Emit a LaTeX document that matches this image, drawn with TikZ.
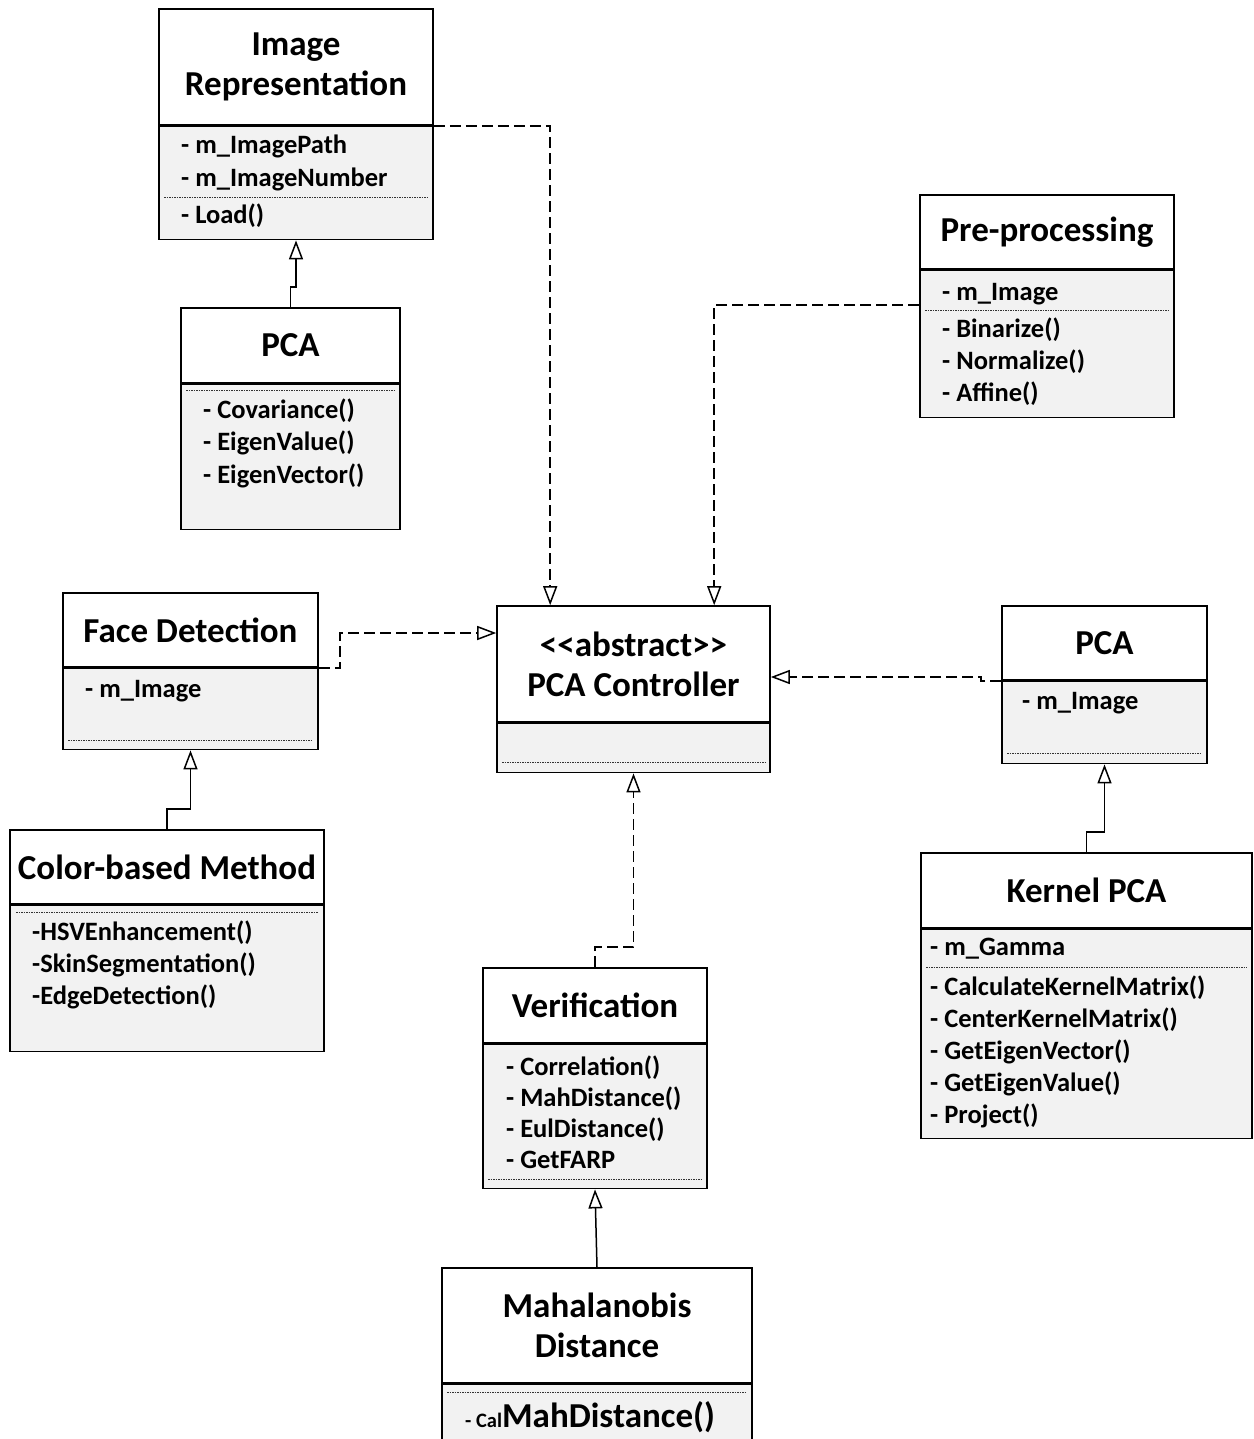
\documentclass[tikz,border=0pt]{standalone}
\usepackage{fontspec}
\setmainfont{Carlito}
\usepackage{tikz}
\usetikzlibrary{arrows.meta}

\begin{document}
\begin{tikzpicture}[x=1pt, y=-1pt,
  clsname/.style={draw, line width=1.6pt, fill=white, align=center, inner sep=0pt,
    font=\fontsize{35}{40}\selectfont\bfseries},
  body/.style={draw, line width=1.6pt, fill=black!5, inner sep=0pt},
  member/.style={anchor=base west, inner sep=0pt, font=\fontsize{26.5}{32}\selectfont\bfseries},
  divider/.style={line width=1pt, black!80, dash pattern=on 1.5pt off 1pt},
  generalize/.style={line width=1.5pt, -{Triangle[open, length=19pt, width=14pt]}},
  realize/.style={generalize, dash pattern=on 11pt off 5pt}]
  \useasboundingbox (0,0) rectangle (1253,1439);
  \clip (0,0) rectangle (1253,1439);

  % Image Representation
  \node[clsname, minimum width=274pt, minimum height=116pt] (imgT) at (296,67) {Image\\Representation};
  \node[body, minimum width=274pt, minimum height=113pt, anchor=north] (imgB) at (imgT.south) {};
  \node[member] (imgA1) at (181,154) {- m\_ImagePath};
  \node[member] (imgA2) at (181,187) {- m\_ImageNumber};
  \draw[divider] (164,198) -- (428,198);
  \node[member] (imgM1) at (181,224) {- Load()};

  % PCA (trai)
  \node[clsname, minimum width=219pt, minimum height=75pt] (pcalT) at (290.5,345.5) {PCA};
  \node[body, minimum width=219pt, minimum height=145pt, anchor=north] (pcalB) at (pcalT.south) {};
  \draw[divider] (186,390) -- (395,390);
  \foreach \t [count=\i from 0] in {- Covariance(), - EigenValue(), - EigenVector()}
    \node[member] (pcalM\i) at (203,418+32.5*\i) {\t};

  % Pre-processing
  \node[clsname, minimum width=254pt, minimum height=74pt] (ppT) at (1047,232) {Pre-processing};
  \node[body, minimum width=254pt, minimum height=147pt, anchor=north] (ppB) at (ppT.south) {};
  \node[member] (ppA1) at (942,300) {- m\_Image};
  \draw[divider] (925,310) -- (1169,310);
  \foreach \t [count=\i from 0] in {- Binarize(), - Normalize(), - Affine()}
    \node[member] (ppM\i) at (942,337+32*\i) {\t};

  % Face Detection
  \node[clsname, minimum width=255pt, minimum height=74pt] (fdT) at (190.5,630) {Face Detection};
  \node[body, minimum width=255pt, minimum height=81pt, anchor=north] (fdB) at (fdT.south) {};
  \node[member] (fdA1) at (85,697) {- m\_Image};
  \draw[divider] (68,740) -- (313,740);

  % PCA Controller
  \node[clsname, minimum width=273pt, minimum height=116pt] (ctlT) at (633.5,664) {<\kern0pt<abstract>\kern0pt>\\PCA Controller};
  \node[body, minimum width=273pt, minimum height=49pt, anchor=north] (ctlB) at (ctlT.south) {};
  \draw[divider] (502,762) -- (765,762);

  % PCA (phai)
  \node[clsname, minimum width=205pt, minimum height=74pt] (pcarT) at (1104.5,643) {PCA};
  \node[body, minimum width=205pt, minimum height=82pt, anchor=north] (pcarB) at (pcarT.south) {};
  \node[member] (pcarA1) at (1022,709) {- m\_Image};
  \draw[divider] (1007,753) -- (1202,753);

  % Color-based Method
  \node[clsname, minimum width=314pt, minimum height=74pt] (colT) at (167,867) {Color-based Method};
  \node[body, minimum width=314pt, minimum height=146pt, anchor=north] (colB) at (colT.south) {};
  \draw[divider] (16,912) -- (318,912);
  \foreach \t [count=\i from 0] in {-HSVEnhancement(), -SkinSegmentation(), -EdgeDetection()}
    \node[member] (colM\i) at (32,940+32*\i) {\t};

  % Kernel PCA
  \node[clsname, minimum width=331pt, minimum height=75pt] (kerT) at (1086.5,890.5) {Kernel PCA};
  \node[body, minimum width=331pt, minimum height=209pt, anchor=north] (kerB) at (kerT.south) {};
  \node[member] (kerA1) at (930,955) {- m\_Gamma};
  \draw[divider] (926,967) -- (1247,967);
  \foreach \t [count=\i from 0] in {- CalculateKernelMatrix(), - CenterKernelMatrix(), - GetEigenVector(), - GetEigenValue(), - Project()}
    \node[member] (kerM\i) at (930,995+32*\i) {\t};

  % Verification
  \node[clsname, minimum width=224pt, minimum height=75pt] (verT) at (595,1005.5) {Verification};
  \node[body, minimum width=224pt, minimum height=144pt, anchor=north] (verB) at (verT.south) {};
  \foreach \t [count=\i from 0] in {- Correlation(), - MahDistance(), - EulDistance(), - GetFARP}
    \node[member] (verM\i) at (506,1075+31*\i) {\t};
  \draw[divider] (488,1179) -- (702,1179);

  % Mahalanobis Distance
  \node[clsname, minimum width=310pt, minimum height=115pt] (mahT) at (597,1325.5) {Mahalanobis\\Distance};
  \node[body, minimum width=310pt, minimum height=80pt, anchor=north] (mahB) at (mahT.south) {};
  \draw[divider] (447,1392) -- (747,1392);
  \node[member] (mahM1) at (465,1427) {{\fontsize{20.5}{24}\selectfont - Cal}{\fontsize{35}{38}\selectfont MahDistance()}};

  % Ke thua
  \draw[generalize] (pcalT.north) -- ++(0,-20) -| (imgB.south);
  \draw[generalize] (colT.north) -- ++(0,-20) -| (fdB.south);
  \draw[generalize] (kerT.north) -- ++(0,-20) -| (pcarB.south);
  \draw[generalize] (mahT.north) -- (verB.south);

  % Phu thuoc vao PCA Controller
  \draw[realize] (imgT.south east) -| ([xshift=54pt]ctlT.north west);
  \draw[realize] ([yshift=39pt]ppB.west) -| ([xshift=218pt]ctlT.north west);
  \draw[realize] (fdT.south east) -- ++(21,0) |- ([yshift=31pt]ctlT.west);
  \draw[realize] (pcarT.south west) -- ++(-20,0) |- ([yshift=-13pt]ctlT.east);
  \draw[realize] (verT.north) -- ++(0,-20) -| (ctlB.south);
\end{tikzpicture}
\end{document}
